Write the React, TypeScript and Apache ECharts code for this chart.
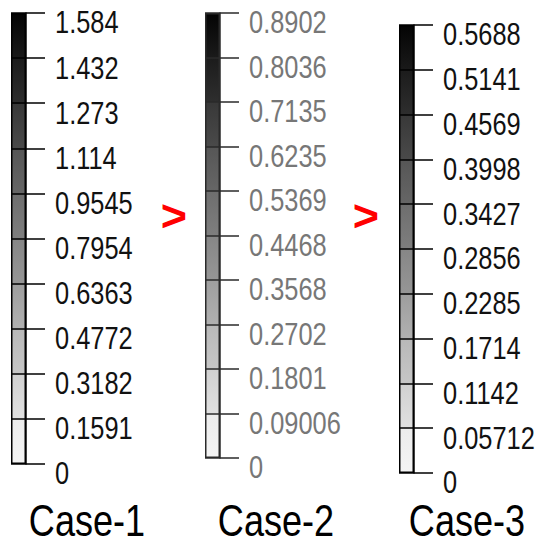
import React, { useEffect, useRef } from "react";
import * as echarts from "echarts";

// ---- data ----
const caseNames = ["Case-1", "Case-2", "Case-3"];
// tick labels from bottom (0) to top
const case1Ticks = ["0", "0.1591", "0.3182", "0.4772", "0.6363", "0.7954", "0.9545", "1.114", "1.273", "1.432", "1.584"];
const case2Ticks = ["0", "0.09006", "0.1801", "0.2702", "0.3568", "0.4468", "0.5369", "0.6235", "0.7135", "0.8036", "0.8902"];
const case3Ticks = ["0", "0.05712", "0.1142", "0.1714", "0.2285", "0.2856", "0.3427", "0.3998", "0.4569", "0.5141", "0.5688"];
const tickSets = [case1Ticks, case2Ticks, case3Ticks];
const comparisonSymbol = ">";

// ---- style ----
// gray level of each band, from top band to bottom band (start, end)
const bandStart = [4, 28, 56, 86, 110, 134, 158, 184, 208, 236];
const bandEnd = [26, 46, 74, 102, 126, 150, 176, 198, 224, 244];

const layout = [
  { left: 11, width: 15, top: 13, bottom: 464, text: "#111", line: "#000" },
  { left: 205, width: 15, top: 13, bottom: 458, text: "#777", line: "#2a2a2a" },
  { left: 399, width: 15, top: 25, bottom: 473, text: "#111", line: "#000" },
];
const caseLabelX = [87, 276, 467];
const arrowX = [174, 366];

const sans = '"Liberation Sans", Arial, Helvetica, sans-serif';
const narrowScale = 0.82;

function gray(v: number) {
  const h = Math.round(v).toString(16).padStart(2, "0");
  return "#" + h + h + h;
}

function bandGradient(n: number) {
  const colorStops: { offset: number; color: string }[] = [];
  for (let k = 0; k < n; k++) {
    colorStops.push({ offset: k / n, color: gray(bandStart[k]) });
    colorStops.push({ offset: (k + 1) / n, color: gray(bandEnd[k]) });
  }
  return { type: "linear", x: 0, y: 0, x2: 0, y2: 1, colorStops, global: false };
}

export default function App() {
  const ref = useRef<HTMLDivElement>(null);
  useEffect(() => {
    if (!ref.current) return;
    const chart = echarts.init(ref.current, undefined, { renderer: "svg" });
    const option: any = {
      animation: false,
      backgroundColor: "#fff",
      grid: layout.map((l) => ({
        left: l.left,
        top: l.top,
        width: l.width,
        height: l.bottom - l.top,
      })),
      xAxis: layout.map((_, i) => ({
        type: "category",
        gridIndex: i,
        data: [caseNames[i]],
        show: false,
      })),
      yAxis: layout.map((l, i) => ({
        type: "value",
        gridIndex: i,
        min: 0,
        max: tickSets[i].length - 1,
        interval: 1,
        position: "right",
        z: 5,
        axisLine: { show: true, lineStyle: { color: l.line, width: 1.5 } },
        axisTick: { show: true, length: 19, lineStyle: { color: l.line, width: 1.5 } },
        splitLine: { show: true, lineStyle: { color: l.line, width: 1.5 } },
        axisLabel: { show: false },
      })),
      series: layout.map((l, i) => ({
        type: "bar",
        name: caseNames[i],
        xAxisIndex: i,
        yAxisIndex: i,
        data: [tickSets[i].length - 1],
        barWidth: "100%",
        silent: true,
        itemStyle: {
          color: bandGradient(tickSets[i].length - 1),
          borderColor: l.line,
          borderWidth: 1.5,
        },
      })),
    };
    chart.setOption(option);

    // tick labels placed through the axes' own scales, condensed like the original
    const tickLabels: any[] = [];
    tickSets.forEach((ticks, i) => {
      const l = layout[i];
      ticks.forEach((t, k) => {
        const y = chart.convertToPixel({ yAxisIndex: i } as any, k) as number;
        tickLabels.push({
          type: "text",
          x: l.left + l.width + 29,
          y: y + 9.5,
          scaleX: narrowScale,
          z: 10,
          style: {
            text: t,
            font: `31px ${sans}`,
            fill: l.text,
            textAlign: "left",
            textVerticalAlign: "middle",
          },
        });
      });
    });

    chart.setOption({
      graphic: [
        ...tickLabels,
        ...caseNames.map((name, i) => ({
          type: "text",
          x: caseLabelX[i],
          y: 521,
          scaleX: narrowScale,
          style: {
            text: name,
            font: `44px ${sans}`,
            fill: "#000",
            textAlign: "center",
            textVerticalAlign: "middle",
          },
        })),
        ...arrowX.map((x) => ({
          type: "text",
          x,
          y: 215,
          style: {
            text: comparisonSymbol,
            font: `bold 45px ${sans}`,
            fill: "#ff0000",
            textAlign: "center",
            textVerticalAlign: "middle",
          },
        })),
      ],
    });
    return () => chart.dispose();
  }, []);
  return (
    <div
      ref={ref}
      style={{ position: "fixed", left: 0, top: 0, width: 545, height: 545, background: "#fff" }}
    />
  );
}
